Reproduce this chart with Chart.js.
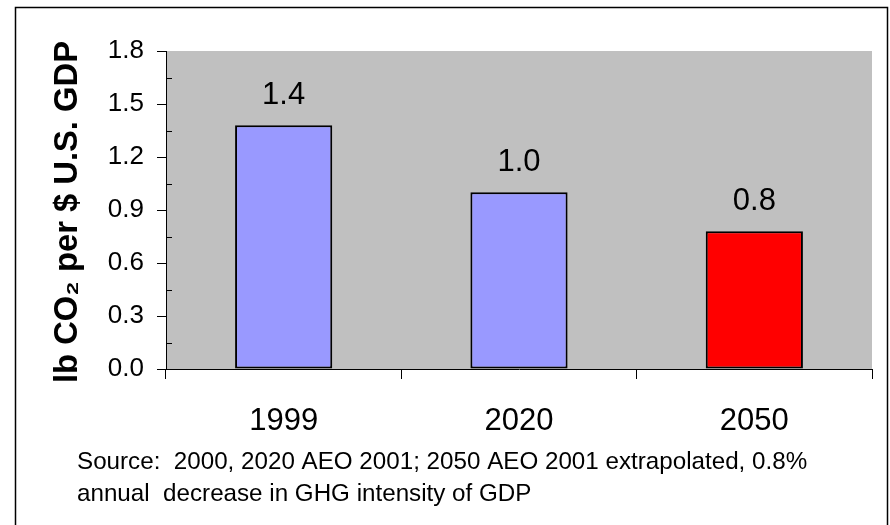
<!DOCTYPE html>
<html>
<head>
<meta charset="utf-8">
<script src="https://cdn.jsdelivr.net/npm/chart.js@4/dist/chart.umd.min.js"></script>
<style>
  html, body { margin: 0; padding: 0; background: #ffffff; }
  #wrap { width: 890px; height: 525px; position: relative; }
</style>
</head>
<body>
<div id="wrap"><canvas id="chart" width="890" height="525"></canvas></div>
<script>
// GHG intensity of U.S. GDP
const years = ['1999', '2020', '2050'];
const intensity = [1.38, 1.0, 0.78];
const barColors = ['#9999FF', '#9999FF', '#FF0000'];
const yTicks = [0, 0.3, 0.6, 0.9, 1.2, 1.5, 1.8];
const yMinorTicks = [0.15, 0.45, 0.75, 1.05, 1.35, 1.65];
const axisTitle = 'lb CO\u2082 per $ U.S. GDP';
const sourceNote = [
  'Source:  2000, 2020 AEO 2001; 2050 AEO 2001 extrapolated, 0.8%',
  'annual  decrease in GHG intensity of GDP'
];

const FONT = '"Liberation Sans", Arial, Helvetica, sans-serif';

const decorations = {
  id: 'decorations',
  beforeDraw(chart) {
    const { ctx, chartArea: a } = chart;
    ctx.save();
    ctx.fillStyle = '#ffffff';
    ctx.fillRect(0, 0, chart.width, chart.height);
    ctx.fillStyle = '#C0C0C0';
    ctx.fillRect(a.left, a.top, a.right - a.left, a.bottom - a.top);
    ctx.restore();
  },
  afterDatasetsDraw(chart) {
    const { ctx } = chart;
    const meta = chart.getDatasetMeta(0);
    ctx.save();
    ctx.fillStyle = '#000000';
    ctx.font = '31px ' + FONT;
    ctx.textAlign = 'center';
    ctx.textBaseline = 'alphabetic';
    meta.data.forEach((bar, i) => {
      const v = chart.data.datasets[0].data[i];
      ctx.fillText(v.toFixed(1), bar.x, bar.y - 21);
    });
    ctx.restore();
  },
  afterDraw(chart) {
    const { ctx, chartArea: a } = chart;
    const y = chart.scales.y;
    ctx.save();
    // minor ticks on the inner side of the value axis
    ctx.strokeStyle = '#000000';
    ctx.lineWidth = 1;
    ctx.beginPath();
    yMinorTicks.forEach(v => {
      const py = Math.round(y.getPixelForValue(v)) + 0.5;
      ctx.moveTo(a.left, py);
      ctx.lineTo(a.left + 6, py);
    });
    ctx.stroke();

    // value axis title
    ctx.fillStyle = '#000000';
    ctx.font = 'bold 33px ' + FONT;
    ctx.textAlign = 'center';
    ctx.textBaseline = 'alphabetic';
    ctx.translate(77, (a.top + a.bottom) / 2 + 2);
    ctx.rotate(-Math.PI / 2);
    ctx.fillText(axisTitle, 0, 0, 342);
    ctx.setTransform(1, 0, 0, 1, 0, 0);

    // source note
    ctx.font = '24.2px ' + FONT;
    ctx.textAlign = 'left';
    ctx.fillText(sourceNote[0], 77, 469);
    ctx.fillText(sourceNote[1], 77, 501);

    // outer frame
    ctx.strokeStyle = '#000000';
    ctx.lineWidth = 1.5;
    ctx.strokeRect(15.5, 7.5, 872, 540);
    ctx.restore();
  }
};

new Chart(document.getElementById('chart'), {
  type: 'bar',
  data: {
    labels: years,
    datasets: [{
      data: intensity,
      backgroundColor: barColors,
      borderColor: '#000000',
      borderWidth: 2,
      borderSkipped: false,
      barPercentage: 0.413,
      categoryPercentage: 1.0
    }]
  },
  options: {
    responsive: false,
    animation: false,
    devicePixelRatio: 1,
    layout: { padding: { left: 16, top: 51, right: 18, bottom: 0 } },
    plugins: {
      legend: { display: false },
      tooltip: { enabled: false }
    },
    scales: {
      x: {
        grid: {
          offset: true,
          drawOnChartArea: false,
          drawTicks: true,
          tickLength: 10,
          color: '#000000'
        },
        border: { display: true, color: '#000000', width: 1 },
        ticks: {
          color: '#000000',
          font: { family: FONT, size: 31 },
          padding: 24
        },
        afterFit(scale) { scale.height = 156; }
      },
      y: {
        min: 0,
        max: 1.8,
        afterBuildTicks(scale) {
          scale.ticks = yTicks.map(v => ({ value: v }));
        },
        grid: {
          drawOnChartArea: false,
          drawTicks: true,
          tickLength: 9,
          color: '#000000'
        },
        border: { display: true, color: '#000000', width: 1 },
        ticks: {
          color: '#000000',
          font: { family: FONT, size: 26 },
          padding: 13,
          callback: v => Number(v).toFixed(1)
        },
        afterFit(scale) { scale.width = 150; }
      }
    }
  },
  plugins: [decorations]
});
</script>
</body>
</html>
